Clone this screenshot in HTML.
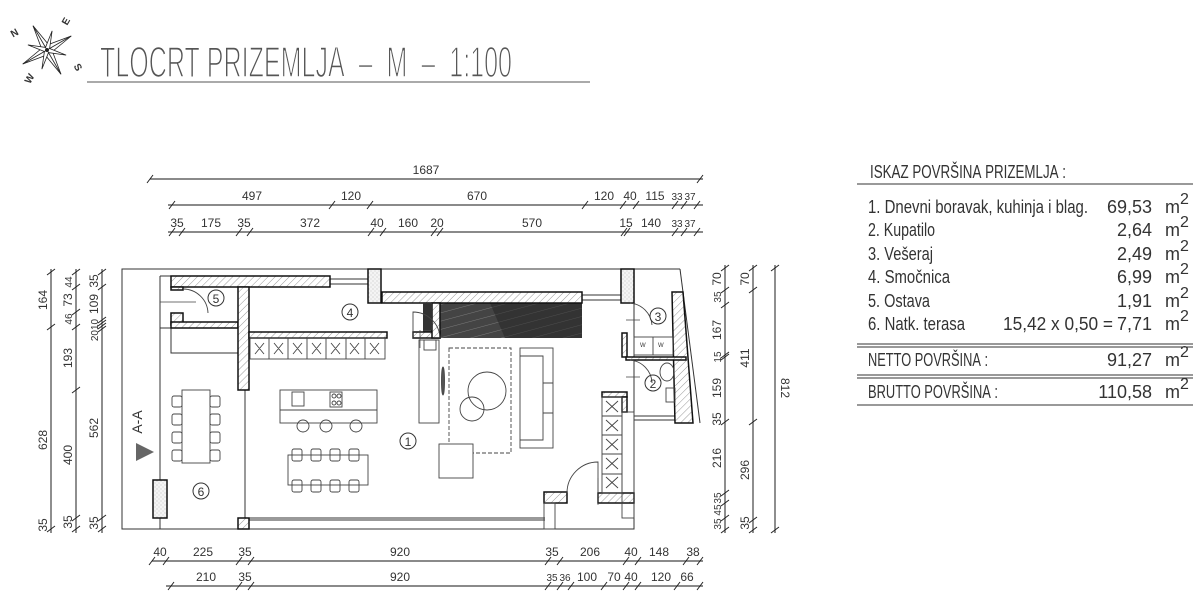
<!DOCTYPE html>
<html><head><meta charset="utf-8"><style>
html,body{margin:0;padding:0;background:#fff;}
svg{display:block;}
text{font-family:"Liberation Sans",sans-serif;fill:#333;}
</style></head><body>
<svg width="1200" height="599" viewBox="0 0 1200 599" xmlns="http://www.w3.org/2000/svg">
<defs>
<pattern id="h" width="5" height="5" patternUnits="userSpaceOnUse" patternTransform="rotate(45)">
<rect width="5" height="5" fill="#fff"/><line x1="0" y1="0" x2="0" y2="5" stroke="#999" stroke-width="1"/>
</pattern>
<pattern id="d" width="4" height="4" patternUnits="userSpaceOnUse">
<rect width="4" height="4" fill="#f4f4f4"/><circle cx="1" cy="1" r="0.5" fill="#aaa"/><circle cx="3" cy="3" r="0.5" fill="#bbb"/>
</pattern>
<pattern id="st" width="8" height="8" patternUnits="userSpaceOnUse" patternTransform="rotate(75)">
<rect width="8" height="8" fill="#444"/><line x1="0" y1="0" x2="0" y2="8" stroke="#888" stroke-width="0.8"/>
</pattern>
</defs>

<!-- compass -->
<g transform="translate(47,50) rotate(-30)" stroke="#222" stroke-width="0.8" fill="#fff">
<polygon points="0,-28 4,-4 28,0 4,4 0,28 -4,4 -28,0 -4,-4"/>
<polygon points="14,-14 3,0 14,14 0,3 -14,14 -3,0 -14,-14 0,-3"/>
<line x1="0" y1="-28" x2="0" y2="28"/><line x1="-28" y1="0" x2="28" y2="0"/>
<circle r="1.5" fill="#222"/>
</g>
<text x="11" y="36" font-size="10" font-weight="bold" transform="rotate(-30 15 33)">N</text>
<text x="62" y="23" font-size="10" font-weight="bold" transform="rotate(-60 67 20)">E</text>
<text x="74" y="71" font-size="10" font-weight="bold" transform="rotate(60 78 68)">S</text>
<text x="24" y="82" font-size="10" font-weight="bold" transform="rotate(-60 29 78)">W</text>

<!-- title -->
<text x="100" y="77" font-size="44" textLength="412" lengthAdjust="spacingAndGlyphs" style="fill:#555" stroke="#fff" stroke-width="1.6" paint-order="normal">TLOCRT&#160;PRIZEMLJA&#160;&#160;–&#160;&#160;M&#160;&#160;–&#160;&#160;1:100</text>
<line x1="87" y1="82" x2="590" y2="82" stroke="#555" stroke-width="1"/>

<!-- dims lines -->
<g stroke="#444" stroke-width="1.2">
<line x1="150" y1="179" x2="703" y2="179"/>
<line x1="168" y1="205" x2="703" y2="205"/>
<line x1="168" y1="232" x2="703" y2="232"/>
<line x1="152" y1="561" x2="703" y2="561"/>
<line x1="166" y1="586" x2="703" y2="586"/>
<line x1="51" y1="269" x2="51" y2="533"/>
<line x1="76" y1="269" x2="76" y2="533"/>
<line x1="102" y1="269" x2="102" y2="533"/>
<line x1="725" y1="265" x2="725" y2="533"/>
<line x1="753" y1="265" x2="753" y2="533"/>
<line x1="775" y1="265" x2="775" y2="533"/>
</g>
<g stroke="#222" stroke-width="1">
<path d="M147,183 L153,175 M697,183 L703,175
M169,209 L175,201 M329,209 L335,201 M367,209 L373,201 M582,209 L588,201 M620,209 L626,201 M633,209 L639,201 M672,209 L678,201 M681,209 L687,201 M694,209 L700,201
M169,236 L175,228 M179,236 L185,228 M236,236 L242,228 M247,236 L253,228 M368,236 L374,228 M380,236 L386,228 M431,236 L437,228 M437,236 L443,228 M621,236 L627,228 M624,236 L630,228 M672,236 L678,228 M681,236 L687,228 M694,236 L700,228
M149,565 L155,557 M163,565 L169,557 M236,565 L242,557 M248,565 L254,557 M545,565 L551,557 M557,565 L563,557 M623,565 L629,557 M635,565 L641,557 M683,565 L689,557 M697,565 L703,557
M168,590 L174,582 M236,590 L242,582 M248,590 L254,582 M545,590 L551,582 M557,590 L563,582 M568,590 L574,582 M601,590 L607,582 M623,590 L629,582 M635,590 L641,582 M674,590 L680,582 M697,590 L703,582"/>
<path d="M47,275 L55,269 M47,330 L55,324 M47,532 L55,526
M72,275 L80,269 M72,290 L80,284 M72,315 L80,309 M72,330 L80,324 M72,393 L80,387 M72,521 L80,515 M72,532 L80,526
M98,275 L106,269 M98,290 L106,284 M98,323 L106,317 M98,326 L106,320 M98,329 L106,323 M98,332 L106,326 M98,521 L106,515 M98,532 L106,526
M721,271 L729,265 M721,293 L729,287 M721,308 L729,302 M721,358 L729,352 M721,360 L729,354 M721,425 L729,419 M721,496 L729,490 M721,506 L729,500 M721,521 L729,515 M721,533 L729,527
M749,271 L757,265 M749,293 L757,287 M749,425 L757,419 M749,523 L757,517 M749,533 L757,527
M771,271 L779,265 M771,533 L779,527"/>
</g>
<g font-size="12" fill="#333" text-anchor="middle">
<text x="426" y="174">1687</text>
<text x="252" y="200">497</text><text x="351" y="200">120</text><text x="477" y="200">670</text><text x="604" y="200">120</text><text x="630" y="200">40</text><text x="655" y="200">115</text>
<text x="677" y="200" font-size="10">33</text><text x="690" y="200" font-size="10">37</text>
<text x="177" y="227">35</text><text x="211" y="227">175</text><text x="244" y="227">35</text><text x="310" y="227">372</text><text x="377" y="227">40</text><text x="408" y="227">160</text><text x="437" y="227">20</text><text x="532" y="227">570</text><text x="626" y="227">15</text><text x="651" y="227">140</text>
<text x="677" y="227" font-size="10">33</text><text x="690" y="227" font-size="10">37</text>
<text x="160" y="556">40</text><text x="203" y="556">225</text><text x="245" y="556">35</text><text x="400" y="556">920</text><text x="552" y="556">35</text><text x="590" y="556">206</text><text x="631" y="556">40</text><text x="659" y="556">148</text><text x="693" y="556">38</text>
<text x="206" y="581">210</text><text x="245" y="581">35</text><text x="400" y="581">920</text><text x="552" y="581" font-size="10">35</text><text x="565" y="581" font-size="10">36</text><text x="587" y="581">100</text><text x="614" y="581">70</text><text x="631" y="581">40</text><text x="661" y="581">120</text><text x="687" y="581">66</text>
</g>
<g font-size="12" fill="#333" text-anchor="middle">
<text transform="translate(47,300) rotate(-90)">164</text>
<text transform="translate(47,440) rotate(-90)">628</text>
<text transform="translate(47,525) rotate(-90)">35</text>
<text transform="translate(72,282) rotate(-90)" font-size="10">44</text>
<text transform="translate(72,300) rotate(-90)">73</text>
<text transform="translate(72,319) rotate(-90)" font-size="10">46</text>
<text transform="translate(72,358) rotate(-90)">193</text>
<text transform="translate(72,455) rotate(-90)">400</text>
<text transform="translate(72,522) rotate(-90)">35</text>
<text transform="translate(98,281) rotate(-90)">35</text>
<text transform="translate(98,304) rotate(-90)">109</text>
<text transform="translate(98,330) rotate(-90)" font-size="10">2010</text>
<text transform="translate(98,428) rotate(-90)">562</text>
<text transform="translate(98,523) rotate(-90)">35</text>
<text transform="translate(721,279) rotate(-90)">70</text>
<text transform="translate(721,297) rotate(-90)" font-size="10">35</text>
<text transform="translate(721,330) rotate(-90)">167</text>
<text transform="translate(721,357) rotate(-90)" font-size="10">15</text>
<text transform="translate(721,388) rotate(-90)">159</text>
<text transform="translate(721,419) rotate(-90)">35</text>
<text transform="translate(721,458) rotate(-90)">216</text>
<text transform="translate(721,498) rotate(-90)" font-size="10">35</text>
<text transform="translate(721,510) rotate(-90)" font-size="10">45</text>
<text transform="translate(721,524) rotate(-90)" font-size="10">35</text>
<text transform="translate(749,279) rotate(-90)">70</text>
<text transform="translate(749,358) rotate(-90)">411</text>
<text transform="translate(749,470) rotate(-90)">296</text>
<text transform="translate(749,523) rotate(-90)">35</text>
<text transform="translate(781,388) rotate(90)">812</text>
</g>

<!-- plan outlines -->
<g fill="none" stroke="#333" stroke-width="1">
<rect x="122" y="269" width="512" height="260"/>
<line x1="160" y1="276" x2="160" y2="529"/>
<line x1="160" y1="276" x2="171" y2="276"/>
<line x1="160" y1="328" x2="238" y2="328"/>
<rect x="171" y="328" width="67" height="25"/>
<line x1="634" y1="269" x2="680" y2="269"/>
<line x1="680" y1="269" x2="700" y2="423"/>
<line x1="245" y1="390" x2="245" y2="518"/>
<line x1="249" y1="518" x2="545" y2="518"/>
<line x1="249" y1="520" x2="545" y2="520"/>
<line x1="330" y1="279" x2="368" y2="279"/><line x1="330" y1="284" x2="368" y2="284"/>
<line x1="582" y1="295" x2="622" y2="295"/><line x1="582" y1="300" x2="622" y2="300"/>
<line x1="634" y1="416" x2="675" y2="416"/><line x1="634" y1="420" x2="675" y2="420"/>
</g>

<rect x="423" y="303" width="159" height="35" fill="url(#st)"/>
<polygon points="490,303 582,303 582,338 505,338" fill="#222" opacity="0.5"/>

<g fill="url(#h)" stroke="#111" stroke-width="1.5">
<rect x="171" y="276" width="159" height="11"/>
<rect x="171" y="287" width="12" height="3"/>
<rect x="171" y="313" width="12" height="12"/>
<rect x="171" y="322" width="67" height="6"/>
<rect x="238" y="287" width="11" height="103"/>
<rect x="249" y="332" width="138" height="6"/>
<rect x="382" y="292" width="200" height="11"/>
<rect x="413" y="332" width="27" height="6"/>
<rect x="432" y="303" width="8" height="35"/>
<polygon points="672,292 683,292 693,423 675,423"/>
<rect x="622" y="333" width="5" height="24"/>
<rect x="626" y="357" width="60" height="3"/>
<rect x="602" y="392" width="25" height="5"/>
<rect x="622" y="397" width="5" height="15"/>
<rect x="598" y="493" width="36" height="10"/>
<rect x="544" y="492" width="23" height="11"/>
<rect x="238" y="518" width="11" height="11"/>
</g>
<g fill="url(#d)" stroke="#111" stroke-width="1.5">
<rect x="368" y="269" width="13" height="34"/>
<rect x="621" y="269" width="13" height="34"/>
<rect x="153" y="480" width="14" height="38"/>
</g>
<rect x="423" y="303" width="9" height="27" fill="#333"/>

<g fill="none" stroke="#444" stroke-width="0.9">
<rect x="250" y="338" width="135" height="21"/>
<path d="M269,338V359M288,338V359M307,338V359M326,338V359M346,338V359M365,338V359"/>
<path d="M255,343l9,11M264,343l-9,11M274,343l9,11M283,343l-9,11M293,343l9,11M302,343l-9,11M312,343l9,11M321,343l-9,11M331,343l9,11M340,343l-9,11M350,343l9,11M359,343l-9,11M370,343l9,11M379,343l-9,11"/>
<rect x="280" y="390" width="97" height="33"/>
<line x1="280" y1="410" x2="377" y2="410"/>
<rect x="292" y="392" width="12" height="14"/><rect x="330" y="392" width="12" height="15"/>
<circle cx="334" cy="396" r="2"/><circle cx="339" cy="396" r="2"/><circle cx="334" cy="403" r="2"/><circle cx="339" cy="403" r="2"/>
<circle cx="303" cy="426" r="6"/><circle cx="326" cy="426" r="6"/><circle cx="356" cy="426" r="6"/>
<rect x="288" y="455" width="80" height="30"/>
<g id="ch"><rect x="292" y="449" width="10" height="12" rx="2"/><rect x="292" y="480" width="10" height="12" rx="2"/></g>
<use href="#ch" x="19"/><use href="#ch" x="38"/><use href="#ch" x="57"/>
<rect x="182" y="390" width="28" height="73"/>
<g id="ch2"><rect x="172" y="396" width="10" height="11" rx="2"/><rect x="210" y="396" width="10" height="11" rx="2"/></g>
<use href="#ch2" y="18"/><use href="#ch2" y="36"/><use href="#ch2" y="54"/>
<rect x="419" y="340" width="20" height="83"/>
<rect x="424" y="340" width="12" height="10"/>
<ellipse cx="443" cy="381" rx="1.5" ry="14" fill="#555"/>
<rect x="449" y="348" width="62" height="105" stroke-dasharray="4,2"/>
<circle cx="487" cy="391" r="19"/><circle cx="472" cy="409" r="12"/>
<rect x="439" y="444" width="34" height="34" fill="#fff"/>
<rect x="520" y="348" width="33" height="100"/>
<path d="M520,356H543V440H520M543,383H553M543,413H553"/>
<rect x="634" y="337" width="39" height="18"/><line x1="653" y1="337" x2="653" y2="355"/>
<rect x="602" y="397" width="20" height="96"/>
<path d="M602,416H622M602,435H622M602,454H622M602,474H622"/>
<path d="M606,401l12,11M618,401l-12,11M606,420l12,11M618,420l-12,11M606,439l12,11M618,439l-12,11M606,458l12,11M618,458l-12,11M606,477l12,11M618,477l-12,11"/>
<rect x="622" y="412" width="12" height="106"/>
<rect x="544" y="503" width="11" height="26"/>
<ellipse cx="667" cy="372" rx="7" ry="9"/><rect x="666" y="388" width="9" height="14"/>
<path d="M413,338V312A27,27 0 0 1 440,338M567,493A31,31 0 0 1 598,462V493M183,289A25,25 0 0 1 208,313M630,303A24,24 0 0 1 652,325M630,360A24,24 0 0 1 652,383"/>
<path d="M160,302H196M626,320H640M626,377H640M420,330V348M598,478V505" stroke-width="0.7"/>
</g>
<text font-size="14" fill="#666" transform="translate(142,422) rotate(-90)" text-anchor="middle">A-A</text>
<polygon points="136,443 136,461 154,452" fill="#666"/>
<g fill="none" stroke="#333" stroke-width="1"><circle cx="216" cy="298" r="8"/><circle cx="350" cy="312" r="8"/><circle cx="408" cy="441" r="8"/><circle cx="201" cy="491" r="8"/><circle cx="658" cy="316" r="8"/><circle cx="653" cy="383" r="8"/></g>
<g font-size="12" text-anchor="middle"><text x="216" y="303">5</text><text x="350" y="317">4</text><text x="408" y="446">1</text><text x="201" y="496">6</text><text x="658" y="321">3</text><text x="653" y="388">2</text></g>
<g font-size="6" fill="#555"><text x="640" y="347">W</text><text x="658" y="347">W</text></g>

<!-- table -->
<g font-size="18" fill="#333">
<text x="870" y="178" textLength="196" lengthAdjust="spacingAndGlyphs">ISKAZ&#160;POVRŠINA&#160;PRIZEMLJA&#160;:</text>
<text x="868" y="213" textLength="220" lengthAdjust="spacingAndGlyphs">1.&#160;Dnevni&#160;boravak,&#160;kuhinja&#160;i&#160;blag.</text>
<text x="868" y="236" textLength="67" lengthAdjust="spacingAndGlyphs">2.&#160;Kupatilo</text>
<text x="868" y="260" textLength="65" lengthAdjust="spacingAndGlyphs">3.&#160;Vešeraj</text>
<text x="868" y="283" textLength="82" lengthAdjust="spacingAndGlyphs">4.&#160;Smočnica</text>
<text x="868" y="307" textLength="62" lengthAdjust="spacingAndGlyphs">5.&#160;Ostava</text>
<text x="868" y="330" textLength="97" lengthAdjust="spacingAndGlyphs">6.&#160;Natk.&#160;terasa</text>
<text x="1003" y="330" textLength="110" lengthAdjust="spacingAndGlyphs">15,42&#160;x&#160;0,50&#160;=</text>
<text x="868" y="366" textLength="120" lengthAdjust="spacingAndGlyphs">NETTO&#160;POVRŠINA&#160;:</text>
<text x="868" y="398" textLength="130" lengthAdjust="spacingAndGlyphs">BRUTTO&#160;POVRŠINA&#160;:</text>
</g>
<g font-size="18" fill="#333" text-anchor="end">
<text x="1152" y="213">69,53</text><text x="1152" y="236">2,64</text><text x="1152" y="260">2,49</text><text x="1152" y="283">6,99</text><text x="1152" y="307">1,91</text><text x="1152" y="330">7,71</text><text x="1152" y="366">91,27</text><text x="1152" y="398">110,58</text>
</g>
<g font-size="18" fill="#333">
<text x="1165" y="213">m<tspan dy="-9" font-size="16">2</tspan></text>
<text x="1165" y="236">m<tspan dy="-9" font-size="16">2</tspan></text>
<text x="1165" y="260">m<tspan dy="-9" font-size="16">2</tspan></text>
<text x="1165" y="283">m<tspan dy="-9" font-size="16">2</tspan></text>
<text x="1165" y="307">m<tspan dy="-9" font-size="16">2</tspan></text>
<text x="1165" y="330">m<tspan dy="-9" font-size="16">2</tspan></text>
<text x="1165" y="366">m<tspan dy="-9" font-size="16">2</tspan></text>
<text x="1165" y="398">m<tspan dy="-9" font-size="16">2</tspan></text>
</g>
<g stroke="#333" stroke-width="1">
<line x1="857" y1="184" x2="1193" y2="184"/>
<line x1="857" y1="344" x2="1193" y2="344"/><line x1="857" y1="347" x2="1193" y2="347"/>
<line x1="857" y1="375" x2="1193" y2="375"/><line x1="857" y1="378" x2="1193" y2="378"/>
<line x1="857" y1="405" x2="1193" y2="405"/>
</g>
</svg>
</body></html>
